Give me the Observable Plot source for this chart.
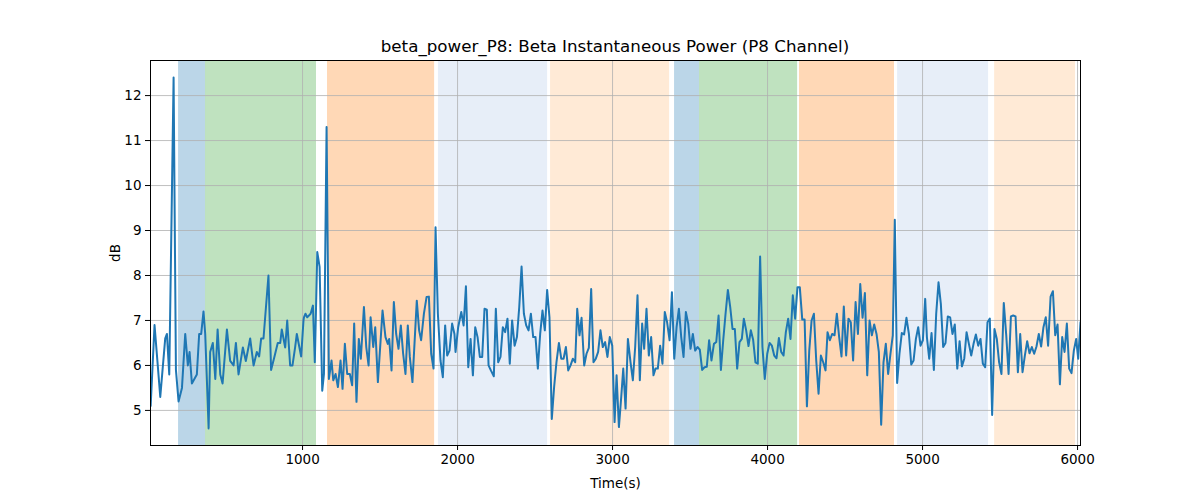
<!DOCTYPE html>
<html><head><meta charset="utf-8">
<script src="https://cdn.jsdelivr.net/npm/d3@7"></script>
<script src="https://cdn.jsdelivr.net/npm/@observablehq/plot@0.6"></script>
<style>
body{margin:0;background:#fff;font-family:"DejaVu Sans",sans-serif;}
#wrap{position:relative;width:1200px;height:500px;}
#title{position:absolute;top:36px;left:150px;width:930px;text-align:center;font-size:16.7px;color:#000;}
</style></head><body>
<div id="wrap"><div id="title">beta_power_P8: Beta Instantaneous Power (P8 Channel)</div><div id="chart"></div></div>
<script>
const times = [20,45,82,114,125,140,168,183,200,222,243,260,271,286,318,333,346,361,372,394,404,421,437,452,469,484,512,533,555,570,587,615,634,662,684,705,720,733,748,780,797,819,840,856,866,888,901,920,935,952,963,991,1006,
1009,1019,1030,1052,1067,1079,1095,1110,1127,1138,1155,1170,1187,1198,1213,1228,1245,1258,1273,1288,1305,1320,1333,1348,1363,1376,1396,1411,1426,1439,1456,1469,1486,1516,1535,1550,1559,1574,1589,1604,1619,1634,1649,1664,1679,1692,1709,1737,1752,1765,1783,1800,1815,1830,1845,1858,1873,1890,1905,1920,1933,1948,1965,1980,
1987,2004,2024,2039,2054,2069,2084,2099,2114,2129,2144,2159,2174,2189,2200,2215,2234,2247,2262,2277,2292,2307,2322,2337,2352,2368,2383,2398,2413,2428,2443,2458,2473,2488,2503,2518,2533,2548,2563,2578,2593,2608,2623,2638,2654,2669,2684,2699,2714,2729,2744,2759,2772,2787,2800,2817,2832,2847,2862,2877,2892,2907,2922,2937,2952,2967,2982,2998,3013,
3026,3041,3056,3069,3084,3099,3116,3131,3146,3161,3176,3191,3204,3219,3234,3249,3264,3277,3292,3307,3322,3337,3352,3368,3383,3398,3413,3428,3443,3458,3473,3488,3503,3518,3533,3548,3563,3578,3593,3608,3623,3638,3654,3669,3684,3699,3714,3729,3744,3759,3774,3789,3804,3819,3834,3847,3862,3877,3892,3907,3922,3937,3952,3967,3982,
3998,4013,4028,4043,4058,4073,4088,4103,4118,4133,4148,4163,4178,4193,4208,4224,4239,4254,4269,4284,4299,4314,4329,4344,4359,4374,4387,4402,4417,4432,4447,4462,4477,4492,4507,4522,4537,4552,4568,4583,4598,4613,4628,4643,4658,4673,4688,4703,4718,4733,4748,4763,4778,4793,4808,4821,4836,4851,4866,4881,4896,4912,4927,4942,4957,4972,4987,5002,5017,
5028,5043,5058,5073,5088,5103,5118,5133,5148,5163,5178,5193,5208,5224,5239,5254,5269,5284,5299,5314,5329,5344,5359,5374,5389,5404,5419,5434,5449,5464,5479,5494,5509,5524,5540,5555,5570,5585,5600,5615,5630,5645,5660,5675,5690,5705,5720,5735,5750,5765,5780,5795,5810,5826,5841,5856,5871,5886,5901,5916,5931,5946,5961,5976,5991,6004,6019];
const power = [5.1,6.9,5.3,6.6,6.7,5.8,12.4,5.9,5.2,5.5,6.7,6.0,6.3,5.6,5.8,6.7,6.7,7.2,6.7,4.6,6.3,6.5,5.7,6.8,5.8,5.6,6.8,6.1,6.0,6.5,5.8,6.4,6.1,6.6,6.0,6.3,6.2,6.6,6.6,8.0,5.9,6.2,6.5,6.5,6.8,6.4,7.0,6.0,6.0,6.4,6.7,6.2,7.0,
7.07,7.15,7.07,7.15,7.33,6.07,8.52,8.19,5.44,5.81,11.3,5.70,6.11,5.67,5.81,5.52,6.11,5.48,6.48,5.81,5.81,5.56,6.93,5.19,6.59,6.15,7.30,6.41,6.0,7.07,6.41,6.85,5.63,7.22,6.63,6.48,6.59,5.89,7.41,6.70,6.37,6.89,6.26,5.81,6.89,6.19,5.63,7.44,6.78,6.56,7.15,7.52,7.53,6.26,5.93,9.07,7.15,6.11,5.74,6.89,6.22,6.33,6.93,6.70,
6.30,6.85,7.19,6.89,7.76,5.96,6.59,5.78,6.85,6.63,6.19,6.19,7.26,7.24,6.00,5.89,5.76,7.26,6.07,6.19,6.85,6.74,7.04,6.04,7.00,6.44,6.63,7.30,8.20,7.15,6.89,6.78,7.15,6.63,6.63,5.93,6.70,7.22,6.78,7.68,7.07,4.81,5.52,6.07,6.50,6.15,6.15,6.41,5.89,6.00,6.15,6.07,7.26,6.67,7.06,6.00,6.26,6.39,7.70,6.07,6.15,6.30,6.78,6.41,6.52,6.19,6.63,6.44,4.74,
5.78,4.63,5.30,5.93,5.04,6.59,6.07,5.67,6.41,7.56,5.67,6.93,6.37,7.26,6.22,6.63,5.78,5.93,5.93,6.44,6.04,7.19,6.96,6.56,7.63,6.15,6.85,7.26,6.63,6.19,7.19,6.93,6.37,6.70,6.33,6.41,6.35,5.90,5.96,5.97,6.56,6.11,6.48,6.52,7.11,5.90,6.56,7.15,7.68,7.30,6.81,6.81,5.93,6.52,6.59,7.04,6.78,6.43,6.78,6.57,6.07,6.04,8.42,6.41,5.70,
6.26,6.50,6.44,6.22,6.16,6.61,6.30,6.22,6.74,7.04,6.59,7.56,7.04,7.74,7.74,7.02,7.02,5.09,6.33,7.00,7.15,6.11,5.37,6.22,6.07,5.89,6.74,6.56,6.70,6.67,7.15,6.63,6.20,7.31,6.22,7.04,6.96,6.11,7.41,6.70,7.81,7.06,7.61,5.78,7.00,6.67,6.91,6.70,6.30,4.68,6.07,6.48,5.81,6.26,6.67,9.24,5.61,6.26,6.72,6.69,7.06,6.70,6.02,6.11,6.59,6.85,6.44,6.56,7.48,
6.63,6.15,6.72,5.90,7.15,7.85,7.37,6.41,6.50,7.09,7.07,6.70,6.91,5.93,6.54,5.98,6.15,6.74,6.48,6.22,6.48,6.69,6.44,6.59,6.04,5.96,6.96,7.04,4.90,6.81,6.59,6.07,5.81,7.39,6.67,5.81,7.09,7.11,7.09,5.85,6.70,5.85,6.22,6.54,6.27,6.41,6.26,6.42,6.70,6.42,6.85,7.07,6.44,7.53,7.65,6.67,6.91,5.58,6.63,6.30,6.93,5.93,5.83,6.33,6.59,6.15,6.96];
const spanStart = [200,374,1161,1877,2600,3400,3561,4206,4839,5465];
const spanEnd   = [374,1090,1852,2581,3368,3561,4194,4819,5426,5987];
const spanColor = ["#1f77b4","#2ca02c","#ff7f0e","#aec7e8","#ffbb78","#1f77b4","#2ca02c","#ff7f0e","#aec7e8","#ffbb78"];
const xTicks = [1000,2000,3000,4000,5000,6000];
const yTicks = [5,6,7,8,9,10,11,12];

const data = times.map((t,i)=>({t, v: power[i]}));
const spans = spanStart.map((s,i)=>({x1:s, x2:spanEnd[i], c:spanColor[i]}));

const chart = Plot.plot({
  width:1200, height:500,
  marginLeft:150, marginRight:120, marginTop:60, marginBottom:55,
  style:{fontFamily:"DejaVu Sans, sans-serif", fontSize:"13.5px", color:"#000", background:"#fff"},
  x:{domain:[19,6019], ticks:xTicks, tickFormat:d=>String(d), label:"Time(s)", labelArrow:"none", labelAnchor:"center", labelOffset:42, tickSize:5},
  y:{domain:[4.22,12.78], ticks:yTicks, label:"dB", labelArrow:"none", labelAnchor:"center", labelOffset:40, tickSize:5},
  marks:[
    Plot.rectX(spans,{x1:"x1", x2:"x2", y1:4.22, y2:12.78, fill:"c", fillOpacity:0.3, inset:0}),
    Plot.gridX(xTicks,{stroke:"#b0b0b0", strokeOpacity:1, strokeWidth:0.8}),
    Plot.gridY(yTicks,{stroke:"#b0b0b0", strokeOpacity:1, strokeWidth:0.8}),
    Plot.line(data,{x:"t", y:"v", stroke:"#1f77b4", strokeWidth:2, clip:true}),
    Plot.frame({stroke:"#000", strokeWidth:1})
  ]
});
document.getElementById("chart").appendChild(chart);
</script></body></html>
